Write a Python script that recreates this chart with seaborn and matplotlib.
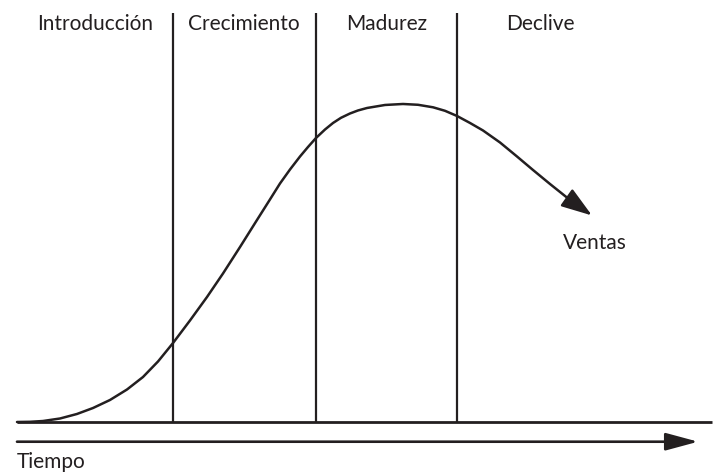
import matplotlib
matplotlib.use("Agg")
import matplotlib.pyplot as plt
import seaborn as sns
import pandas as pd

# ---- data (time in % of horizon, sales in % of peak) ----
time = [0.0, 1.87, 3.74, 6.19, 8.63, 10.94, 13.38, 15.83, 18.13, 20.29,
        22.45, 24.89, 27.34, 29.64, 32.09, 34.53, 36.26, 37.84, 39.28, 40.72,
        41.87, 43.02, 44.32, 45.47, 46.62, 47.91, 49.06, 50.36, 52.95, 55.54,
        57.70, 59.86, 61.58, 63.31, 65.18, 67.05, 69.50, 71.94, 74.24, 76.69,
        79.57, 82.73]
sales = [0.0, 0.06, 0.31, 1.10, 2.52, 4.40, 6.92, 10.22, 14.15, 19.03,
         24.84, 31.92, 39.31, 46.70, 55.03, 63.52, 69.50, 75.00, 79.40, 83.49,
         86.48, 89.31, 91.98, 94.03, 95.66, 97.01, 97.96, 98.74, 99.69, 100.0,
         99.75, 98.96, 97.86, 96.23, 94.03, 91.67, 87.89, 83.49, 79.25, 74.84,
         69.81, 64.94]
stages = ["Introducción", "Crecimiento", "Madurez", "Declive"]
stage_bounds = [0.0, 22.4, 43.0, 63.3, 87.3]
series_label = "Ventas"
axis_label = "Tiempo"

df = pd.DataFrame({"t": time, "s": sales})

sns.set_theme(style="white")
plt.rcParams["font.family"] = ["Lato", "DejaVu Sans"]
ink = "#231f20"

fig = plt.figure(figsize=(7.15, 4.73), dpi=100)
ax = fig.add_axes([0, 0, 1, 1])
ax.set_xlim(-2.446, 100.43)
ax.set_ylim(-16.04, 132.7)
ax.axis("off")

lw = 1.8
# sales curve (last segment drawn as arrow)
sns.lineplot(data=df.iloc[:-1], x="t", y="s", sort=False, color=ink, lw=lw,
             ax=ax, legend=False)
ax.lines[-1].set_solid_joinstyle("round")
ax.annotate("", xy=(time[-1], sales[-1]), xytext=(time[-2], sales[-2]),
            arrowprops=dict(arrowstyle="-|>,head_length=0.95,head_width=0.32",
                            mutation_scale=20, color=ink, lw=lw,
                            shrinkA=0, shrinkB=0))

# baseline
ax.plot([0, 100], [0, 0], color=ink, lw=2.0, solid_capstyle="butt")

# stage separators
for b in stage_bounds[1:-1]:
    ax.plot([b, b], [0, 128.6], color=ink, lw=1.6, solid_capstyle="butt")

# stage labels
for i, name in enumerate(stages):
    c = (stage_bounds[i] + stage_bounds[i + 1]) / 2
    ax.text(c, 125.0, name, ha="center", va="center", fontsize=15, color=ink)

# time arrow
ax.annotate("", xy=(98.0, -6.2), xytext=(0, -6.2),
            arrowprops=dict(arrowstyle="-|>,head_length=1.0,head_width=0.27",
                            mutation_scale=20, color=ink, lw=1.9,
                            shrinkA=0, shrinkB=0))
ax.text(0, -12.6, axis_label, ha="left", va="center", fontsize=15, color=ink)
ax.text(78.6, 56.3, series_label, ha="left", va="center", fontsize=15, color=ink)

fig.savefig("out.png", dpi=100)
